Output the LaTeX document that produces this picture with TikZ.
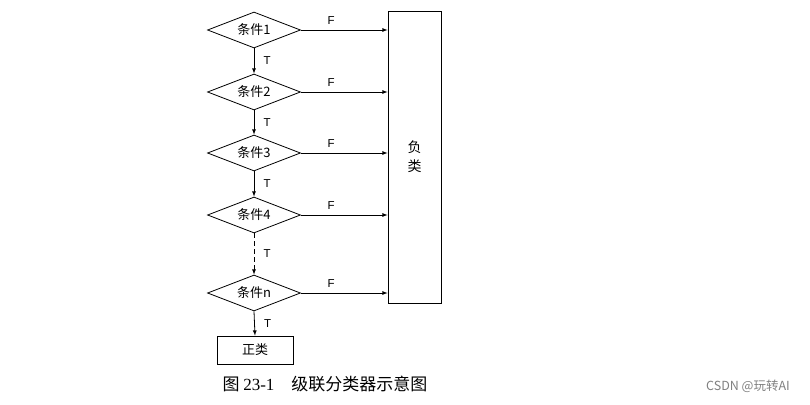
\documentclass[tikz,border=0pt]{standalone}
\usepackage{fontspec}
\setmainfont{Liberation Sans}
\newfontfamily\cjk{Noto Sans CJK SC}
\newfontfamily\capnum{Liberation Serif}
\usetikzlibrary{shapes.geometric}
\begin{document}
\begin{tikzpicture}[x=1pt, y=-1pt, thick,
                  cond/.style={diamond, draw, minimum width=93pt, minimum height=36pt,
                               inner sep=0pt, aspect=2.6, font=\cjk\fontsize{13}{13}\selectfont},
                  lab/.style={font=\fontsize{11.5}{12}\selectfont}]
\useasboundingbox (0,0) rectangle (810,404);
\foreach \i/\t/\y in {1/1/30, 2/2/92, 3/3/153, 4/4/215, 5/n/293}
  \node[cond] (c\i) at (254,\y) {条件\t};
\node[draw, minimum width=53pt, minimum height=292pt, align=center,
      font=\cjk\fontsize{14}{19}\selectfont] (neg) at (414.5,157) {负\\类};
\node[draw, minimum width=76pt, minimum height=28pt,
      font=\cjk\fontsize{13}{13}\selectfont] (pos) at (255,350) {正类};
\foreach \i in {1,...,5}
  \draw[-latex] (c\i.east) -- (c\i.east -| neg.west) node[lab, pos=0.35, above=2pt] {F};
\foreach \i/\j in {1/2, 2/3, 3/4}
  \draw[-latex] (c\i.south) -- (c\j.north) node[lab, midway, right=6pt] {T};
\draw[-latex, dash pattern=on 5pt off 3pt] (c4.south) -- (c5.north) node[lab, midway, right=6pt] {T};
\draw[-latex] (c5.south) -- (pos.north) node[lab, midway, right=6pt] {T};
\node[font=\cjk\fontsize{17}{17}\selectfont] (cap) at (325,384) {图 {\capnum 23-1}\quad 级联分类器示意图};
\node[text=gray, font=\cjk\fontsize{12.5}{13}\selectfont] (mark) at (748,386) {CSDN @玩转AI};
\end{tikzpicture}
\end{document}
